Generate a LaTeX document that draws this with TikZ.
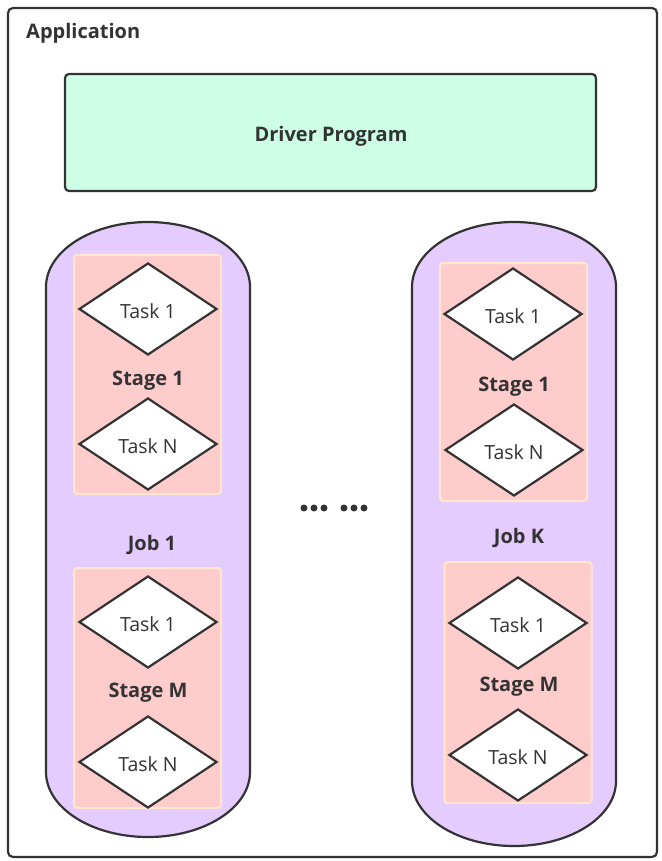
\documentclass[tikz,border=0pt]{standalone}
\usepackage{fontspec}
\setmainfont{Open Sans}
\usetikzlibrary{shapes.geometric}
\definecolor{dk}{HTML}{333333}
\definecolor{mint}{HTML}{CCFFE6}
\definecolor{lilac}{HTML}{E5CCFF}
\definecolor{pinkf}{HTML}{FFCCCC}
\definecolor{peach}{HTML}{FFE6CC}
\tikzset{
  outerbox/.style={draw=dk, line width=2.2pt, rounded corners=5pt, fill=white},
  driverbox/.style={draw=dk, line width=2.2pt, rounded corners=4pt, fill=mint, minimum width=531pt, minimum height=117pt, inner sep=0pt},
  pill/.style={draw=dk, line width=2.2pt, fill=lilac},
  stagebox/.style={draw=peach, line width=2pt, rounded corners=3pt, fill=pinkf, minimum width=147pt, inner sep=0pt},
  task/.style={diamond, draw=dk, line width=2.2pt, fill=white, minimum width=138pt, minimum height=92pt, aspect=1.5, inner sep=0pt, text=dk, text height=18.6pt, text depth=0pt, font=\fontsize{19.5}{23}\selectfont},
  lbl/.style={text=dk, font=\fontsize{20}{24}\selectfont\bfseries, inner sep=0pt, yshift=-2.5pt},
  dot/.style={circle, fill=dk, minimum size=7pt, inner sep=0pt}
}
\begin{document}
\begin{tikzpicture}[x=1pt,y=-1pt]
\useasboundingbox (0,0) rectangle (661,861);
\draw[outerbox] (8,8) rectangle (657,857);
\node[lbl, anchor=west] (app) at (26,31) {Application};
\node[driverbox] (driver) at (330.5,132.5) {};
\node[lbl] (drivertxt) at (331,134) {Driver Program};
% Job 1
\draw[pill] (46,287) .. controls (46,251.1) and (91.7,222) .. (148,222) .. controls (204.3,222) and (250,251.1) .. (250,287) -- (250,772) .. controls (250,807.9) and (204.3,837) .. (148,837) .. controls (91.7,837) and (46,807.9) .. (46,772) -- cycle;
\node[stagebox, minimum height=239pt] (j1s1) at (147.5,374.5) {};
\node[stagebox, minimum height=240pt] (j1sm) at (147.5,688) {};
\node[task] (j1s1t1) at (148,309) {Task 1};
\node[task] (j1s1tn) at (148,444) {Task N};
\node[task] (j1smt1) at (148,622) {Task 1};
\node[task] (j1smtn) at (148,762) {Task N};
\node[lbl] (j1s1l) at (148,378) {Stage 1};
\node[lbl] (j1l) at (152,542) {Job 1};
\node[lbl] (j1sml) at (148,690) {Stage M};
% Job K
\draw[pill] (412,287) .. controls (412,251.1) and (457.7,222) .. (514,222) .. controls (570.3,222) and (616,251.1) .. (616,287) -- (616,781) .. controls (616,816.9) and (570.3,846) .. (514,846) .. controls (457.7,846) and (412,816.9) .. (412,781) -- cycle;
\node[stagebox, minimum height=238pt] (jks1) at (513.5,382) {};
\node[stagebox, minimum height=241pt] (jksm) at (518,682.5) {};
\node[task] (jks1t1) at (513,314) {Task 1};
\node[task] (jks1tn) at (514,450) {Task N};
\node[task] (jksmt1) at (518,623) {Task 1};
\node[task] (jksmtn) at (518,755) {Task N};
\node[lbl] (jks1l) at (514,384) {Stage 1};
\node[lbl] (jkl) at (519,535) {Job K};
\node[lbl] (jksml) at (519,684) {Stage M};
% dots
\foreach \i/\xx in {1/304,2/314,3/324,4/344,5/354,6/364} \node[dot] (d\i) at (\xx,508) {};
\end{tikzpicture}
\end{document}
